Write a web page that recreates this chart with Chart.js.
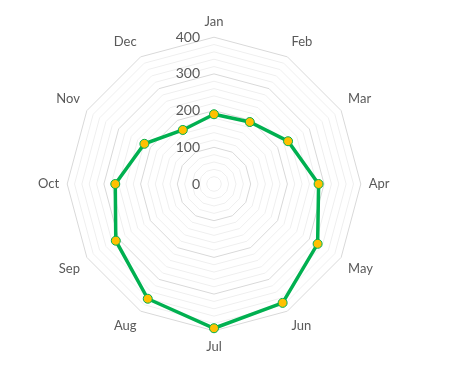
<!DOCTYPE html>
<html>
<head>
<meta charset="utf-8">
<script src="https://cdn.jsdelivr.net/npm/chart.js@4"></script>
<style>
  html, body { margin: 0; padding: 0; background: #fff; }
  #wrap { width: 465px; height: 377px; }
</style>
</head>
<body>
<div id="wrap"><canvas id="radar"></canvas></div>
<script>
const months = ['Jan', 'Feb', 'Mar', 'Apr', 'May', 'Jun', 'Jul', 'Aug', 'Sep', 'Oct', 'Nov', 'Dec'];
const values = [190, 195, 233, 285, 326, 374, 393, 361, 309, 269, 219, 170];
const tickLabels = [0, 100, 200, 300, 400];

const textColor = '#595959';
const fontFamily = 'Lato, "Open Sans", sans-serif';

// draws 0..400 labels to the left of the vertical axis, like Excel does
const tickLabelPlugin = {
  id: 'tickLabels',
  afterDraw(chart) {
    const scale = chart.scales.r;
    const ctx = chart.ctx;
    ctx.save();
    ctx.font = '14px ' + fontFamily;
    ctx.fillStyle = textColor;
    ctx.textAlign = 'right';
    ctx.textBaseline = 'middle';
    tickLabels.forEach(v => {
      const d = scale.getDistanceFromCenterForValue(v);
      ctx.fillText(String(v), scale.xCenter - 14, scale.yCenter - d);
    });
    ctx.restore();
  }
};

new Chart(document.getElementById('radar'), {
  type: 'radar',
  data: {
    labels: months,
    datasets: [{
      data: values,
      borderColor: '#00b050',
      borderWidth: 3.5,
      backgroundColor: 'transparent',
      fill: false,
      pointBackgroundColor: '#ffc000',
      pointBorderColor: '#00b050',
      pointBorderWidth: 1,
      pointRadius: 4.5,
      tension: 0
    }]
  },
  options: {
    responsive: true,
    maintainAspectRatio: false,
    animation: false,
    layout: { padding: { left: 38, right: 75, top: 13, bottom: 21 } },
    plugins: {
      legend: { display: false },
      tooltip: { enabled: false }
    },
    scales: {
      r: {
        min: 0,
        max: 400,
        ticks: { stepSize: 20, display: false },
        angleLines: { display: false },
        grid: {
          circular: false,
          lineWidth: 1,
          color: ctx => (ctx.tick && ctx.tick.value % 100 === 0) ? '#d9d9d9' : '#efefef'
        },
        pointLabels: {
          color: textColor,
          padding: 8,
          font: { family: fontFamily, size: 13 }
        }
      }
    }
  },
  plugins: [tickLabelPlugin]
});
</script>
</body>
</html>
